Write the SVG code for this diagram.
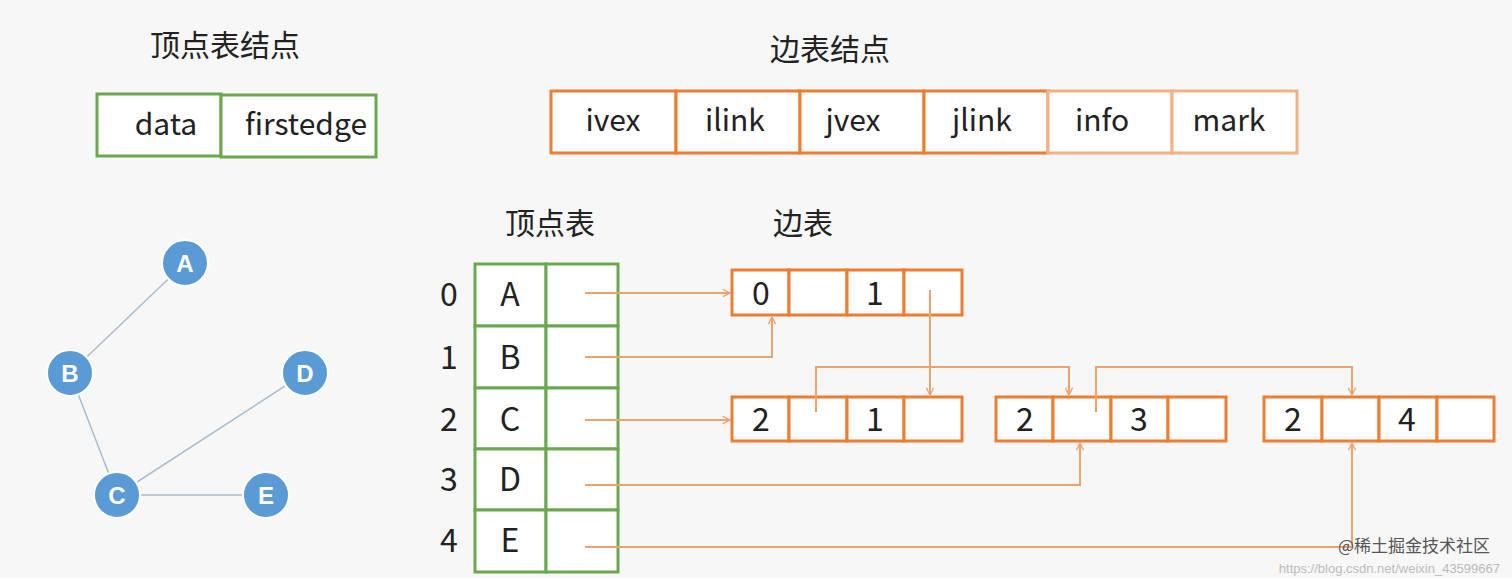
<svg xmlns="http://www.w3.org/2000/svg" width="1512" height="578" viewBox="0 0 1512 578">
<defs>
<style>
.t{font-family:"Noto Sans CJK SC","Liberation Sans",sans-serif;fill:#222}
.g{fill:#fff;stroke:#6aa84f;stroke-width:3}
.o{fill:#fff;stroke:#ed7d31;stroke-width:3}
.ol{fill:#fff;stroke:#f4b183;stroke-width:3}
.c{fill:none;stroke:#eda36b;stroke-width:2}
.v{fill:#5b9bd5;stroke:#fff;stroke-width:2}
.vt{font-family:"Liberation Sans",sans-serif;font-weight:bold;font-size:24px;fill:#fff;text-anchor:middle}
</style>
<marker id="ar" viewBox="0 0 10 10" refX="9" refY="5" markerWidth="9" markerHeight="9" orient="auto" markerUnits="userSpaceOnUse"><path d="M1,1 L9,5 L1,9" fill="none" stroke="#eda36b" stroke-width="1.5"/></marker>
</defs>
<rect width="1512" height="578" fill="#f7f7f7"/>
<text class="t" x="225" y="56" font-size="30" text-anchor="middle">顶点表结点</text>
<text class="t" x="830" y="60" font-size="30" text-anchor="middle">边表结点</text>
<text class="t" x="550" y="234" font-size="30" text-anchor="middle">顶点表</text>
<text class="t" x="803" y="234" font-size="30" text-anchor="middle">边表</text>
<g id="vnode" font-size="30">
<rect class="g" x="97" y="94" width="124" height="62"/><rect class="g" x="221" y="95" width="155" height="62"/>
<text class="t" x="166" y="135" text-anchor="middle">data</text><text class="t" x="306" y="135" text-anchor="middle">firstedge</text>
</g>
<g id="enode" font-size="30">
<rect class="o" x="551" y="91" width="125" height="62"/><rect class="o" x="676" y="91" width="124" height="62"/><rect class="o" x="800" y="91" width="124" height="62"/><rect class="o" x="924" y="91" width="124" height="62"/><rect class="ol" x="1048" y="91" width="124" height="62"/><rect class="ol" x="1172" y="91" width="125" height="62"/>
<text class="t" x="613" y="131" text-anchor="middle">ivex</text><text class="t" x="735" y="131" text-anchor="middle">ilink</text><text class="t" x="853" y="131" text-anchor="middle">jvex</text><text class="t" x="982" y="131" text-anchor="middle">jlink</text><text class="t" x="1102" y="131" text-anchor="middle">info</text><text class="t" x="1229" y="131" text-anchor="middle">mark</text>
</g>
<g id="vtable" font-size="32">
<rect class="g" x="475" y="264" width="71" height="62"/><rect class="g" x="546" y="264" width="72" height="62"/>
<rect class="g" x="475" y="326" width="71" height="62"/><rect class="g" x="546" y="326" width="72" height="62"/>
<rect class="g" x="475" y="388" width="71" height="61"/><rect class="g" x="546" y="388" width="72" height="61"/>
<rect class="g" x="475" y="449" width="71" height="61"/><rect class="g" x="546" y="449" width="72" height="61"/>
<rect class="g" x="475" y="510" width="71" height="62"/><rect class="g" x="546" y="510" width="72" height="62"/>
<g text-anchor="middle">
<text class="t" x="449" y="306">0</text><text class="t" x="449" y="369">1</text><text class="t" x="449" y="431">2</text><text class="t" x="449" y="491">3</text><text class="t" x="449" y="552">4</text>
<text class="t" x="510" y="306">A</text><text class="t" x="510" y="369">B</text><text class="t" x="510" y="431">C</text><text class="t" x="510" y="491">D</text><text class="t" x="510" y="552">E</text>
</g>
</g>
<g id="edges" font-size="32" text-anchor="middle">
<g id="e01"><rect class="o" x="732" y="270" width="57" height="45"/><rect class="o" x="789" y="270" width="58" height="45"/><rect class="o" x="847" y="270" width="57" height="45"/><rect class="o" x="904" y="270" width="58" height="45"/>
<text class="t" x="761" y="305">0</text><text class="t" x="875" y="305">1</text></g>
<g id="e21"><rect class="o" x="732" y="397" width="57" height="44"/><rect class="o" x="789" y="397" width="58" height="44"/><rect class="o" x="847" y="397" width="57" height="44"/><rect class="o" x="904" y="397" width="58" height="44"/>
<text class="t" x="761" y="431">2</text><text class="t" x="875" y="431">1</text></g>
<g id="e23"><rect class="o" x="996" y="397" width="57" height="44"/><rect class="o" x="1053" y="397" width="58" height="44"/><rect class="o" x="1111" y="397" width="57" height="44"/><rect class="o" x="1168" y="397" width="58" height="44"/>
<text class="t" x="1025" y="431">2</text><text class="t" x="1139" y="431">3</text></g>
<g id="e24"><rect class="o" x="1264" y="397" width="58" height="44"/><rect class="o" x="1322" y="397" width="57" height="44"/><rect class="o" x="1379" y="397" width="58" height="44"/><rect class="o" x="1437" y="397" width="57" height="44"/>
<text class="t" x="1293" y="431">2</text><text class="t" x="1407" y="431">4</text></g>
</g>
<g id="connectors">
<path class="c" marker-end="url(#ar)" d="M585,293 H730"/>
<path class="c" marker-end="url(#ar)" d="M585,357 H772 V317"/>
<path class="c" marker-end="url(#ar)" d="M585,420 H730"/>
<path class="c" marker-end="url(#ar)" d="M930,290 V395"/>
<path class="c" marker-end="url(#ar)" d="M816,412 V367 H1069 V395"/>
<path class="c" marker-end="url(#ar)" d="M1096,412 V367 H1352 V395"/>
<path class="c" marker-end="url(#ar)" d="M585,485 H1080 V443"/>
<path class="c" marker-end="url(#ar)" d="M585,547 H1352 V443"/>
<g stroke="#a9bdd0" stroke-width="1.5">
<line x1="185" y1="263" x2="70" y2="373"/><line x1="70" y1="373" x2="117" y2="495"/><line x1="117" y1="495" x2="305" y2="373"/><line x1="117" y1="495" x2="266" y2="495"/>
</g>
</g>
<g id="vA"><circle class="v" cx="185" cy="263" r="23"/><text class="vt" x="185" y="272">A</text></g>
<g id="vB"><circle class="v" cx="70" cy="373" r="23"/><text class="vt" x="70" y="382">B</text></g>
<g id="vD"><circle class="v" cx="305" cy="373" r="23"/><text class="vt" x="305" y="382">D</text></g>
<g id="vC"><circle class="v" cx="117" cy="495" r="23"/><text class="vt" x="117" y="504">C</text></g>
<g id="vE"><circle class="v" cx="266" cy="495" r="23"/><text class="vt" x="266" y="504">E</text></g>
<text x="1490" y="552" font-size="17" text-anchor="end" fill="#555" font-family="Noto Sans CJK SC,sans-serif">@稀土掘金技术社区</text>
<text x="1500" y="573" font-size="13" text-anchor="end" fill="#bbb" font-family="Liberation Sans,sans-serif">https://blog.csdn.net/weixin_43599667</text>
</svg>
